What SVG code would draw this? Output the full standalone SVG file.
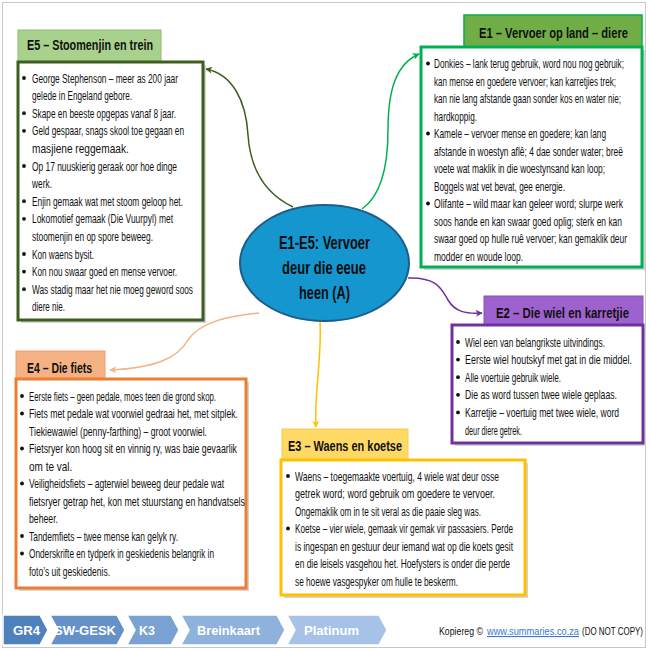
<svg xmlns="http://www.w3.org/2000/svg" width="650" height="650" viewBox="0 0 650 650">
<style>
.t{font-family:"Liberation Sans",Arial,sans-serif;font-size:13px;fill:#111}
.h{font-family:"Liberation Sans",Arial,sans-serif;font-size:14.5px;font-weight:bold;fill:#111}
.c{font-family:"Liberation Sans",Arial,sans-serif;font-size:17.5px;font-weight:bold;fill:#0d0d0d}
.f{font-family:"Liberation Sans",Arial,sans-serif;font-size:13px;font-weight:bold;fill:#fff}
.k{font-family:"Liberation Sans",Arial,sans-serif;font-size:11px;fill:#111}
.box{fill:#fff;stroke-width:3}
.sh{fill:#d4d4d4}
.b{fill:#111}
.con{fill:none;stroke-width:1.5}
</style>
<defs>
<marker id="aG" viewBox="0 0 10 10" refX="9" refY="5" markerWidth="7" markerHeight="7" markerUnits="userSpaceOnUse" orient="auto"><path d="M0,0 L10,5 L0,10 L3,5 z" fill="#3d5e1f"/></marker>
<marker id="aL" viewBox="0 0 10 10" refX="9" refY="5" markerWidth="7" markerHeight="7" markerUnits="userSpaceOnUse" orient="auto"><path d="M0,0 L10,5 L0,10 L3,5 z" fill="#00b050"/></marker>
<marker id="aP" viewBox="0 0 10 10" refX="9" refY="5" markerWidth="7" markerHeight="7" markerUnits="userSpaceOnUse" orient="auto"><path d="M0,0 L10,5 L0,10 L3,5 z" fill="#7030a0"/></marker>
<marker id="aO" viewBox="0 0 10 10" refX="9" refY="5" markerWidth="7" markerHeight="7" markerUnits="userSpaceOnUse" orient="auto"><path d="M0,0 L10,5 L0,10 L3,5 z" fill="#f4b183"/></marker>
<marker id="aY" viewBox="0 0 10 10" refX="9" refY="5" markerWidth="7" markerHeight="7" markerUnits="userSpaceOnUse" orient="auto"><path d="M0,0 L10,5 L0,10 L3,5 z" fill="#ffc000"/></marker>
</defs>
<rect x="0" y="0" width="650" height="650" fill="#fff"/>
<rect x="2.5" y="2.5" width="643" height="645" fill="none" stroke="#c8c8c8" stroke-width="1"/>

<g id="connectors">
<path class="con" stroke="#3d5e1f" d="M293 207 C262 192,250 165,248 135 C246 100,232 74,206 69" marker-end="url(#aG)"/>
<path class="con" stroke="#00b050" d="M362 209 C382 195,388 165,388 130 C388 90,396 64,419 54" marker-end="url(#aL)"/>
<path class="con" stroke="#7030a0" d="M408 278 C438 277,442 290,448 300 C455 312,466 314,482 313" marker-end="url(#aP)"/>
<path class="con" stroke="#f4b183" d="M259 313 C228 316,200 322,188 340 C178 358,155 368,110 370" marker-end="url(#aO)"/>
<path class="con" stroke="#ffc000" d="M320 322 C322 360,314 392,316 427" marker-end="url(#aY)"/>
</g>

<g id="center">
<ellipse cx="324.5" cy="263" rx="84.5" ry="58" fill="#1596cf" stroke="#1d5d8c" stroke-width="2"/>
<text class="c" x="279" y="249" textLength="91" lengthAdjust="spacingAndGlyphs">E1-E5: Vervoer</text>
<text class="c" x="282" y="274" textLength="84" lengthAdjust="spacingAndGlyphs">deur die eeue</text>
<text class="c" x="299" y="299" textLength="51" lengthAdjust="spacingAndGlyphs">heen (A)</text>
</g>

<g id="E5">
<rect x="18" y="30" width="143" height="32" fill="#a9d18e" stroke="#8cbf6a" stroke-width="1"/>
<text class="h" x="27" y="50" textLength="126" lengthAdjust="spacingAndGlyphs">E5 – Stoomenjin en trein</text>
<rect class="sh" x="21" y="65" width="185" height="258"/>
<rect class="box" x="18" y="62" width="185" height="258" stroke="#3d5e1f"/>
<circle class="b" cx="24" cy="78" r="1.9"/>
<text class="t" x="32" y="82.5" textLength="146" lengthAdjust="spacingAndGlyphs">George Stephenson – meer as 200 jaar</text>
<text class="t" x="32" y="100.1" textLength="100" lengthAdjust="spacingAndGlyphs">gelede in Engeland gebore.</text>
<circle class="b" cx="24" cy="113.2" r="1.9"/>
<text class="t" x="32" y="117.7" textLength="144" lengthAdjust="spacingAndGlyphs">Skape en beeste opgepas vanaf 8 jaar.</text>
<circle class="b" cx="24" cy="130.8" r="1.9"/>
<text class="t" x="32" y="135.3" textLength="152" lengthAdjust="spacingAndGlyphs">Geld gespaar, snags skool toe gegaan en</text>
<text class="t" transform="translate(32 152.9) scale(0.78 1)" x="0" y="0">masjiene reggemaak.</text>
<circle class="b" cx="24" cy="166" r="1.9"/>
<text class="t" x="32" y="170.5" textLength="145" lengthAdjust="spacingAndGlyphs">Op 17 nuuskierig geraak oor hoe dinge</text>
<text class="t" x="32" y="188.1" textLength="20" lengthAdjust="spacingAndGlyphs">werk.</text>
<circle class="b" cx="24" cy="201.2" r="1.9"/>
<text class="t" x="32" y="205.7" textLength="151" lengthAdjust="spacingAndGlyphs">Enjin gemaak wat met stoom geloop het.</text>
<circle class="b" cx="24" cy="218.8" r="1.9"/>
<text class="t" x="32" y="223.3" textLength="141" lengthAdjust="spacingAndGlyphs">Lokomotief gemaak (Die Vuurpyl) met</text>
<text class="t" x="32" y="240.9" textLength="121" lengthAdjust="spacingAndGlyphs">stoomenjin en op spore beweeg.</text>
<circle class="b" cx="24" cy="254" r="1.9"/>
<text class="t" x="32" y="258.5" textLength="62" lengthAdjust="spacingAndGlyphs">Kon waens bysit.</text>
<circle class="b" cx="24" cy="271.6" r="1.9"/>
<text class="t" x="32" y="276.1" textLength="145" lengthAdjust="spacingAndGlyphs">Kon nou swaar goed en mense vervoer.</text>
<circle class="b" cx="24" cy="289.2" r="1.9"/>
<text class="t" x="32" y="293.7" textLength="161" lengthAdjust="spacingAndGlyphs">Was stadig maar het nie moeg geword soos</text>
<text class="t" x="32" y="311.3" textLength="33" lengthAdjust="spacingAndGlyphs">diere nie.</text>
</g>

<g id="E1">
<rect x="464" y="15" width="178" height="32" fill="#70ad47" stroke="#00b050" stroke-width="1.5"/>
<text class="h" x="479" y="38" textLength="149" lengthAdjust="spacingAndGlyphs">E1 – Vervoer op land – diere</text>
<rect class="sh" x="424" y="50" width="221" height="220"/>
<rect class="box" x="421" y="47" width="221" height="220" stroke="#00b050"/>
<circle class="b" cx="428" cy="63.5" r="1.9"/>
<text class="t" x="434" y="68" textLength="190" lengthAdjust="spacingAndGlyphs">Donkies – lank terug gebruik, word nou nog gebruik;</text>
<text class="t" x="434" y="85.5" textLength="182" lengthAdjust="spacingAndGlyphs">kan mense en goedere vervoer; kan karretjies trek;</text>
<text class="t" x="434" y="103" textLength="187" lengthAdjust="spacingAndGlyphs">kan nie lang afstande gaan sonder kos en water nie;</text>
<text class="t" x="434" y="120.5" textLength="43" lengthAdjust="spacingAndGlyphs">hardkoppig.</text>
<circle class="b" cx="428" cy="133.5" r="1.9"/>
<text class="t" x="434" y="138" textLength="172" lengthAdjust="spacingAndGlyphs">Kamele – vervoer mense en goedere; kan lang</text>
<text class="t" x="434" y="155.5" textLength="189" lengthAdjust="spacingAndGlyphs">afstande in woestyn aflê; 4 dae sonder water; breë</text>
<text class="t" x="434" y="173" textLength="171" lengthAdjust="spacingAndGlyphs">voete wat maklik in die woestynsand kan loop;</text>
<text class="t" x="434" y="190.5" textLength="131" lengthAdjust="spacingAndGlyphs">Boggels wat vet bevat, gee energie.</text>
<circle class="b" cx="428" cy="203.5" r="1.9"/>
<text class="t" x="434" y="208" textLength="189" lengthAdjust="spacingAndGlyphs">Olifante – wild maar kan geleer word; slurpe werk</text>
<text class="t" x="434" y="225.5" textLength="188" lengthAdjust="spacingAndGlyphs">soos hande en kan swaar goed oplig; sterk en kan</text>
<text class="t" x="434" y="243" textLength="193" lengthAdjust="spacingAndGlyphs">swaar goed op hulle ruê vervoer; kan gemaklik deur</text>
<text class="t" x="434" y="260.5" textLength="89" lengthAdjust="spacingAndGlyphs">modder en woude loop.</text>
</g>

<g id="E2">
<rect x="484" y="296" width="159" height="29" fill="#9e62cf" stroke="#8a4fbf" stroke-width="1"/>
<text class="h" x="496" y="318" textLength="133" lengthAdjust="spacingAndGlyphs">E2 – Die wiel en karretjie</text>
<rect class="sh" x="455" y="328" width="191" height="118"/>
<rect class="box" x="452" y="325" width="191" height="118" stroke="#7030a0"/>
<circle class="b" cx="458" cy="342" r="1.9"/>
<text class="t" x="465" y="346.5" textLength="140" lengthAdjust="spacingAndGlyphs">Wiel een van belangrikste uitvindings.</text>
<circle class="b" cx="458" cy="359.6" r="1.9"/>
<text class="t" x="465" y="364.1" textLength="167" lengthAdjust="spacingAndGlyphs">Eerste wiel houtskyf met gat in die middel.</text>
<circle class="b" cx="458" cy="377.2" r="1.9"/>
<text class="t" x="465" y="381.7" textLength="96" lengthAdjust="spacingAndGlyphs">Alle voertuie gebruik wiele.</text>
<circle class="b" cx="458" cy="394.8" r="1.9"/>
<text class="t" x="465" y="399.3" textLength="152" lengthAdjust="spacingAndGlyphs">Die as word tussen twee wiele geplaas.</text>
<circle class="b" cx="458" cy="412.4" r="1.9"/>
<text class="t" x="465" y="416.9" textLength="154" lengthAdjust="spacingAndGlyphs">Karretjie – voertuig met twee wiele, word</text>
<text class="t" x="465" y="434.5" textLength="57" lengthAdjust="spacingAndGlyphs">deur diere getrek.</text>
</g>

<g id="E4">
<rect x="16" y="351" width="89" height="28" fill="#f4b183" stroke="#f0a06a" stroke-width="1"/>
<text class="h" x="27" y="373" textLength="65" lengthAdjust="spacingAndGlyphs">E4 – Die fiets</text>
<rect class="sh" x="19" y="382" width="230" height="209"/>
<rect class="box" x="16" y="379" width="230" height="209" stroke="#ed7d31"/>
<circle class="b" cx="22" cy="396" r="1.9"/>
<text class="t" x="29" y="400.5" textLength="187" lengthAdjust="spacingAndGlyphs">Eerste fiets – geen pedale, moes teen die grond skop.</text>
<circle class="b" cx="22" cy="413.5" r="1.9"/>
<text class="t" x="29" y="418" textLength="209" lengthAdjust="spacingAndGlyphs">Fiets met pedale wat voorwiel gedraai het, met sitplek.</text>
<text class="t" x="29" y="435.5" textLength="178" lengthAdjust="spacingAndGlyphs">Tiekiewawiel (penny-farthing) – groot voorwiel.</text>
<circle class="b" cx="22" cy="448.5" r="1.9"/>
<text class="t" x="29" y="453" textLength="208" lengthAdjust="spacingAndGlyphs">Fietsryer kon hoog sit en vinnig ry, was baie gevaarlik</text>
<text class="t" transform="translate(29 470.5) scale(0.77 1)" x="0" y="0">om te val.</text>
<circle class="b" cx="22" cy="483.5" r="1.9"/>
<text class="t" x="29" y="488" textLength="195" lengthAdjust="spacingAndGlyphs">Veiligheidsfiets – agterwiel beweeg deur pedale wat</text>
<text class="t" x="29" y="505.5" textLength="216" lengthAdjust="spacingAndGlyphs">fietsryer getrap het, kon met stuurstang en handvatsels</text>
<text class="t" x="29" y="523" textLength="29" lengthAdjust="spacingAndGlyphs">beheer.</text>
<circle class="b" cx="22" cy="536" r="1.9"/>
<text class="t" x="29" y="540.5" textLength="149" lengthAdjust="spacingAndGlyphs">Tandemfiets – twee mense kan gelyk ry.</text>
<circle class="b" cx="22" cy="553.5" r="1.9"/>
<text class="t" x="29" y="558" textLength="185" lengthAdjust="spacingAndGlyphs">Onderskrifte en tydperk in geskiedenis belangrik in</text>
<text class="t" x="29" y="575.5" textLength="81" lengthAdjust="spacingAndGlyphs">foto’s uit geskiedenis.</text>
</g>

<g id="E3">
<rect x="282" y="429" width="126" height="31" fill="#ffd966" stroke="#f5cc50" stroke-width="1"/>
<text class="h" x="288" y="451" textLength="114" lengthAdjust="spacingAndGlyphs">E3 – Waens en koetse</text>
<rect class="sh" x="284" y="463" width="244" height="135"/>
<rect class="box" x="281" y="460" width="244" height="135" stroke="#ffc000"/>
<circle class="b" cx="288" cy="476" r="1.9"/>
<text class="t" x="295" y="480.5" textLength="204" lengthAdjust="spacingAndGlyphs">Waens – toegemaakte voertuig, 4 wiele wat deur osse</text>
<text class="t" x="295" y="498" textLength="200" lengthAdjust="spacingAndGlyphs">getrek word; word gebruik om goedere te vervoer.</text>
<text class="t" x="295" y="515.5" textLength="186" lengthAdjust="spacingAndGlyphs">Ongemaklik om in te sit veral as die paaie sleg was.</text>
<circle class="b" cx="288" cy="528.5" r="1.9"/>
<text class="t" x="295" y="533" textLength="218" lengthAdjust="spacingAndGlyphs">Koetse – vier wiele, gemaak vir gemak vir passasiers.  Perde</text>
<text class="t" x="295" y="550.5" textLength="218" lengthAdjust="spacingAndGlyphs">is ingespan en gestuur deur iemand wat op die koets gesit</text>
<text class="t" x="295" y="568" textLength="215" lengthAdjust="spacingAndGlyphs">en die leisels vasgehou het. Hoefysters is onder die perde</text>
<text class="t" x="295" y="585.5" textLength="163" lengthAdjust="spacingAndGlyphs">se hoewe vasgespyker om hulle te beskerm.</text>
</g>

<g id="footer">
<polygon points="287,615 379,615 387,630 379,645 287,645 295,630" fill="#a6c3e7" stroke="#fff" stroke-width="1.5"/>
<polygon points="181,615 277,615 285,630 277,645 181,645 189,630" fill="#8fb2dc" stroke="#fff" stroke-width="1.5"/>
<polygon points="127,615 171,615 179,630 171,645 127,645 135,630" fill="#79a1d2" stroke="#fff" stroke-width="1.5"/>
<polygon points="50,615 117,615 125,630 117,645 50,645 58,630" fill="#6591c8" stroke="#fff" stroke-width="1.5"/>
<polygon points="3,615 40,615 48,630 40,645 3,645" fill="#4f81bd" stroke="#fff" stroke-width="1.5"/>
<text class="f" x="13" y="635" textLength="27" lengthAdjust="spacingAndGlyphs">GR4</text>
<text class="f" x="54" y="635" textLength="62" lengthAdjust="spacingAndGlyphs">SW-GESK</text>
<text class="f" x="139" y="635" textLength="16" lengthAdjust="spacingAndGlyphs">K3</text>
<text class="f" x="197" y="635" textLength="63" lengthAdjust="spacingAndGlyphs">Breinkaart</text>
<text class="f" x="304" y="635" textLength="55" lengthAdjust="spacingAndGlyphs">Platinum</text>
<text class="k" x="439" y="635" textLength="44" lengthAdjust="spacingAndGlyphs">Kopiereg ©</text>
<text class="k" x="487" y="635" textLength="92" lengthAdjust="spacingAndGlyphs" text-decoration="underline" style="fill:#3a78d0">www.summaries.co.za</text>
<text class="k" x="582" y="635" textLength="61" lengthAdjust="spacingAndGlyphs">(DO NOT COPY)</text>
</g>
</svg>
